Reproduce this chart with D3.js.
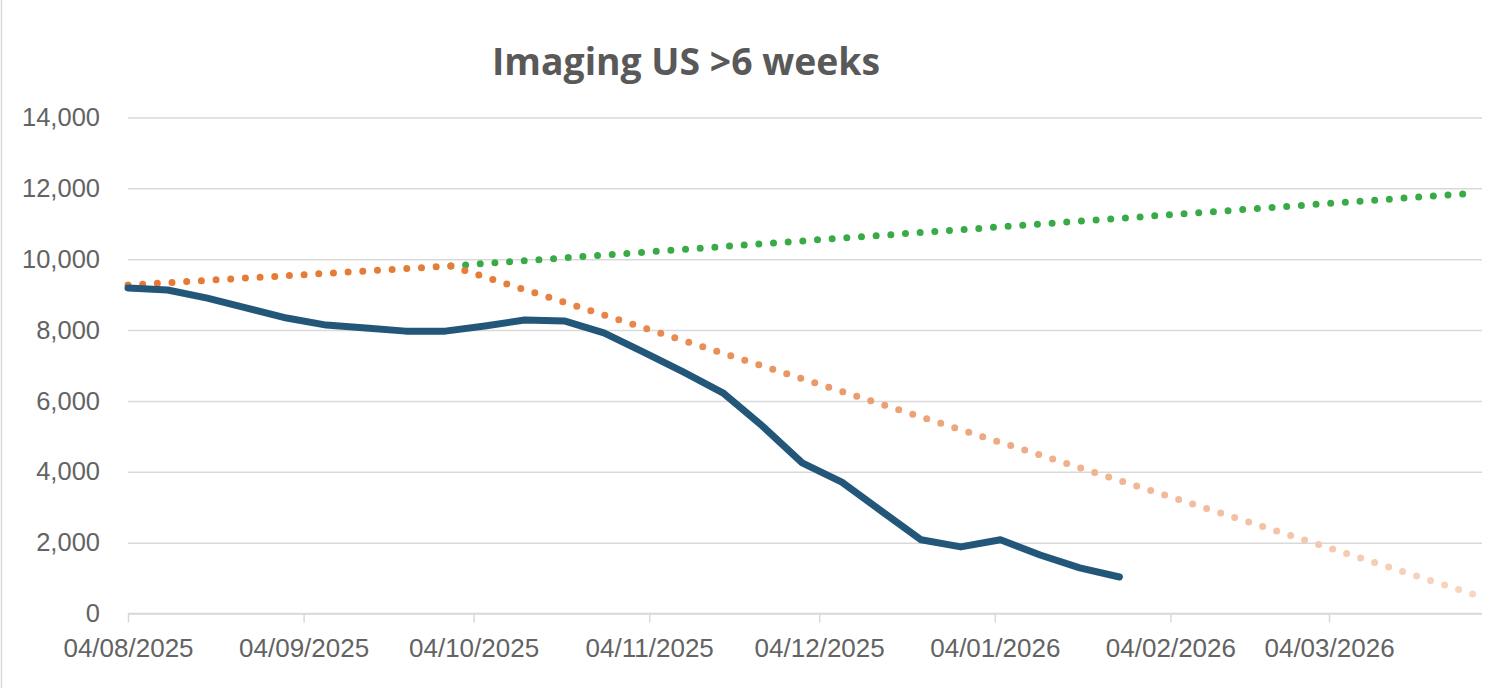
<!DOCTYPE html>
<html>
<head>
<meta charset="utf-8">
<script src="https://cdn.jsdelivr.net/npm/d3@7"></script>
<style>
  html, body { margin: 0; padding: 0; background: #fff; }
  svg { display: block; }
</style>
</head>
<body>
<svg id="chart" width="1512" height="688"></svg>
<script>
// ---- data ----
const title = "Imaging US >6 weeks";
const actualDates = ["2025-08-04","2025-08-11","2025-08-18","2025-08-25","2025-09-01","2025-09-08",
  "2025-09-15","2025-09-22","2025-09-29","2025-10-06","2025-10-13","2025-10-20","2025-10-27",
  "2025-11-03","2025-11-10","2025-11-17","2025-11-24","2025-12-01","2025-12-08","2025-12-15",
  "2025-12-22","2025-12-29","2026-01-05","2026-01-12","2026-01-19","2026-01-26"];
const actualValues = [9190,9130,8900,8620,8340,8140,8060,7970,7970,8115,8285,8257,7920,
  7380,6820,6230,5290,4250,3710,2890,2080,1880,2080,1650,1290,1030];
const reductionDates = ["2025-08-04","2025-09-30","2026-03-30"];
const reductionValues = [9270,9810,520];
const growthDates = ["2025-09-30","2026-03-30"];
const growthValues = [9810,11870];
const xTickDates = ["2025-08-04","2025-09-04","2025-10-04","2025-11-04","2025-12-04","2026-01-04","2026-02-04","2026-03-04"];
const xTickLabels = ["04/08/2025","04/09/2025","04/10/2025","04/11/2025","04/12/2025","04/01/2026","04/02/2026","04/03/2026"];
const yTicks = [0,2000,4000,6000,8000,10000,12000,14000];
const xDomain = ["2025-08-04","2026-03-31"];

// ---- layout ----
const svg = d3.select("#chart");
const mLeft = 128, mRight = 1482, mTop = 117.5, mBottom = 613.5;
const parse = s => new Date(s + "T00:00:00Z");

const x = d3.scaleUtc().domain(xDomain.map(parse)).range([mLeft, mRight]);
const y = d3.scaleLinear().domain([0, 14000]).range([mBottom, mTop]);

const textColor = "#636363";
const gridColor = "#d9d9d9";

// chart border (left edge visible)
svg.append("line").attr("x1", 1.5).attr("x2", 1.5).attr("y1", 0).attr("y2", 688)
  .attr("stroke", "#d9d9d9").attr("stroke-width", 1.5);

// gridlines + y labels
const yAxis = d3.axisLeft(y).tickValues(yTicks).tickSize(-(mRight - mLeft)).tickPadding(28)
  .tickFormat(d3.format(","));
const gy = svg.append("g").attr("transform", `translate(${mLeft},0)`).call(yAxis);
gy.select(".domain").remove();
gy.selectAll(".tick line").attr("stroke", gridColor).attr("stroke-width", 1.5);
gy.selectAll(".tick text").attr("fill", textColor)
  .style("font-family", "'Liberation Sans', Arial, sans-serif").style("font-size", "25.5px");

// x axis
const xAxis = d3.axisBottom(x).tickValues(xTickDates.map(parse)).tickSize(9).tickPadding(16)
  .tickFormat((d, i) => xTickLabels[i]);
const gx = svg.append("g").attr("transform", `translate(0,${mBottom})`).call(xAxis);
gx.select(".domain").attr("stroke", gridColor).attr("stroke-width", 1.5)
  .attr("d", `M${mLeft},0H${mRight}`);
gx.selectAll(".tick line").attr("stroke", gridColor).attr("stroke-width", 1.5);
gx.selectAll(".tick text").attr("fill", textColor)
  .style("font-family", "'Liberation Sans', Arial, sans-serif").style("font-size", "26px");

// gradient for reduction line
const defs = svg.append("defs");
const grad = defs.append("linearGradient").attr("id", "redGrad")
  .attr("gradientUnits", "userSpaceOnUse")
  .attr("x1", mLeft).attr("x2", mRight).attr("y1", 0).attr("y2", 0);
[[0, "#e47a36"], [0.26, "#e57c38"], [0.38, "#e8884c"], [0.6, "#eca57c"], [1, "#f8d7c3"]]
  .forEach(([o, c]) => grad.append("stop").attr("offset", o).attr("stop-color", c));

const line = d3.line().x(d => x(d.date)).y(d => y(d.value));

const growth = growthDates.map((d, i) => ({ date: parse(d), value: growthValues[i] }));
const reduction = reductionDates.map((d, i) => ({ date: parse(d), value: reductionValues[i] }));
const actual = actualDates.map((d, i) => ({ date: parse(d), value: actualValues[i] }));

svg.append("path").datum(growth).attr("d", line)
  .attr("fill", "none").attr("stroke", "#38ab47").attr("stroke-width", 7)
  .attr("stroke-linecap", "round").attr("stroke-dasharray", "0 14.7");

svg.append("path").datum(reduction).attr("d", line)
  .attr("fill", "none").attr("stroke", "url(#redGrad)").attr("stroke-width", 7)
  .attr("stroke-linecap", "round").attr("stroke-dasharray", "0 14.7");

svg.append("path").datum(actual).attr("d", line)
  .attr("fill", "none").attr("stroke", "#22577a").attr("stroke-width", 7)
  .attr("stroke-linecap", "round").attr("stroke-linejoin", "round");

// title
const t = svg.append("text").attr("x", 686).attr("y", 75).attr("text-anchor", "middle")
  .attr("fill", "#595959").style("font-family", "'Open Sans', 'Noto Sans', sans-serif")
  .style("font-weight", "700").style("font-size", "34px").text(title);
const w = t.node().getComputedTextLength();
t.style("font-size", (34 * 388 / w).toFixed(2) + "px");
</script>
</body>
</html>
